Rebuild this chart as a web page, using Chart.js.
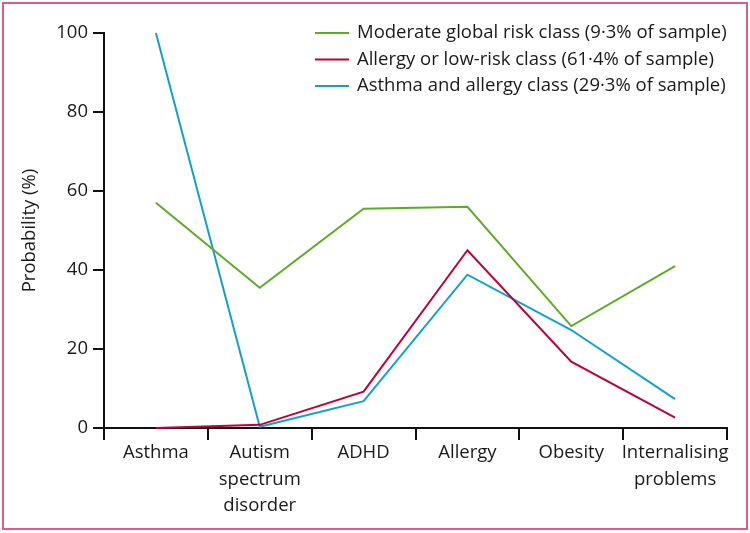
<!DOCTYPE html>
<html>
<head>
<meta charset="utf-8">
<script src="https://cdn.jsdelivr.net/npm/chart.js@4/dist/chart.umd.min.js"></script>
<style>
html,body{margin:0;padding:0;background:#fff;}
#wrap{width:750px;height:533px;}
</style>
</head>
<body>
<div id="wrap"><canvas id="c" width="750" height="533"></canvas></div>
<script>
const categories = [["Asthma"], ["Autism", "spectrum", "disorder"], ["ADHD"], ["Allergy"], ["Obesity"], ["Internalising", "problems"]];
const seriesNames = ["Moderate global risk class (9\u00b73% of sample)", "Allergy or low-risk class (61\u00b74% of sample)", "Asthma and allergy class (29\u00b73% of sample)"];
const moderateGlobal = [57, 35.5, 55.5, 56, 25.8, 41];
const allergyLowRisk = [0, 0.8, 9.2, 45, 16.8, 2.6];
const asthmaAllergy = [100, 0.3, 6.8, 38.8, 24.8, 7.3];
const yTicks = [0, 20, 40, 60, 80, 100];

const FONT = "'Open Sans', sans-serif";
const FS = 18.5;
const colors = ["#5eac26", "#bc0236", "#12a0cd"];

const frame = {
  id: 'frame',
  beforeDraw(chart) {
    const ctx = chart.ctx;
    ctx.save();
    ctx.fillStyle = '#fff';
    ctx.fillRect(0, 0, chart.width, chart.height);
    ctx.strokeStyle = '#dc5e88';
    ctx.lineWidth = 2;
    ctx.strokeRect(3, 3, chart.width - 6, chart.height - 7);
    ctx.restore();
  },
  afterDraw(chart) {
    const ctx = chart.ctx;
    ctx.save();
    ctx.font = FS + "px " + FONT;
    ctx.textBaseline = 'middle';
    chart.data.datasets.forEach((ds, i) => {
      const y = 33 + i * 26.5;
      ctx.strokeStyle = ds.borderColor;
      ctx.lineWidth = 2;
      ctx.beginPath();
      ctx.moveTo(315, y);
      ctx.lineTo(349, y);
      ctx.stroke();
      ctx.fillStyle = '#1a1a1a';
      ctx.fillText(ds.label, 357, y);
    });
    ctx.restore();
  }
};

new Chart(document.getElementById('c'), {
  type: 'line',
  data: {
    labels: categories,
    datasets: [
      {label: seriesNames[0], data: moderateGlobal, borderColor: colors[0]},
      {label: seriesNames[1], data: allergyLowRisk, borderColor: colors[1]},
      {label: seriesNames[2], data: asthmaAllergy, borderColor: colors[2]}
    ].map(d => Object.assign(d, {borderWidth: 2, pointRadius: 0, tension: 0, fill: false, clip: false}))
  },
  options: {
    responsive: false,
    animation: false,
    layout: {padding: {left: 0, top: 33, right: 23, bottom: 0}},
    plugins: {legend: {display: false}, tooltip: {enabled: false}},
    scales: {
      x: {
        type: 'category',
        offset: true,
        afterFit(s) { s.height = 105; },
        grid: {display: true, offset: true, drawOnChartArea: false, drawTicks: true, tickLength: 12, color: '#111', lineWidth: 2},
        border: {display: true, color: '#111', width: 2},
        ticks: {color: '#1a1a1a', font: {family: FONT, size: FS, lineHeight: 1.42}, padding: 0, maxRotation: 0, autoSkip: false}
      },
      y: {
        min: 0, max: 100,
        afterFit(s) { s.width = 104; },
        afterBuildTicks(s) { s.ticks = yTicks.map(v => ({value: v})); },
        grid: {display: true, drawOnChartArea: false, drawTicks: true, tickLength: 11, color: '#111', lineWidth: 2},
        border: {display: true, color: '#111', width: 2},
        title: {display: true, text: 'Probability (%)', color: '#1a1a1a', font: {family: FONT, size: FS}, padding: {top: 19, bottom: 0}},
        ticks: {color: '#1a1a1a', font: {family: FONT, size: FS}, padding: 5}
      }
    }
  },
  plugins: [frame]
});
</script>
</body>
</html>
